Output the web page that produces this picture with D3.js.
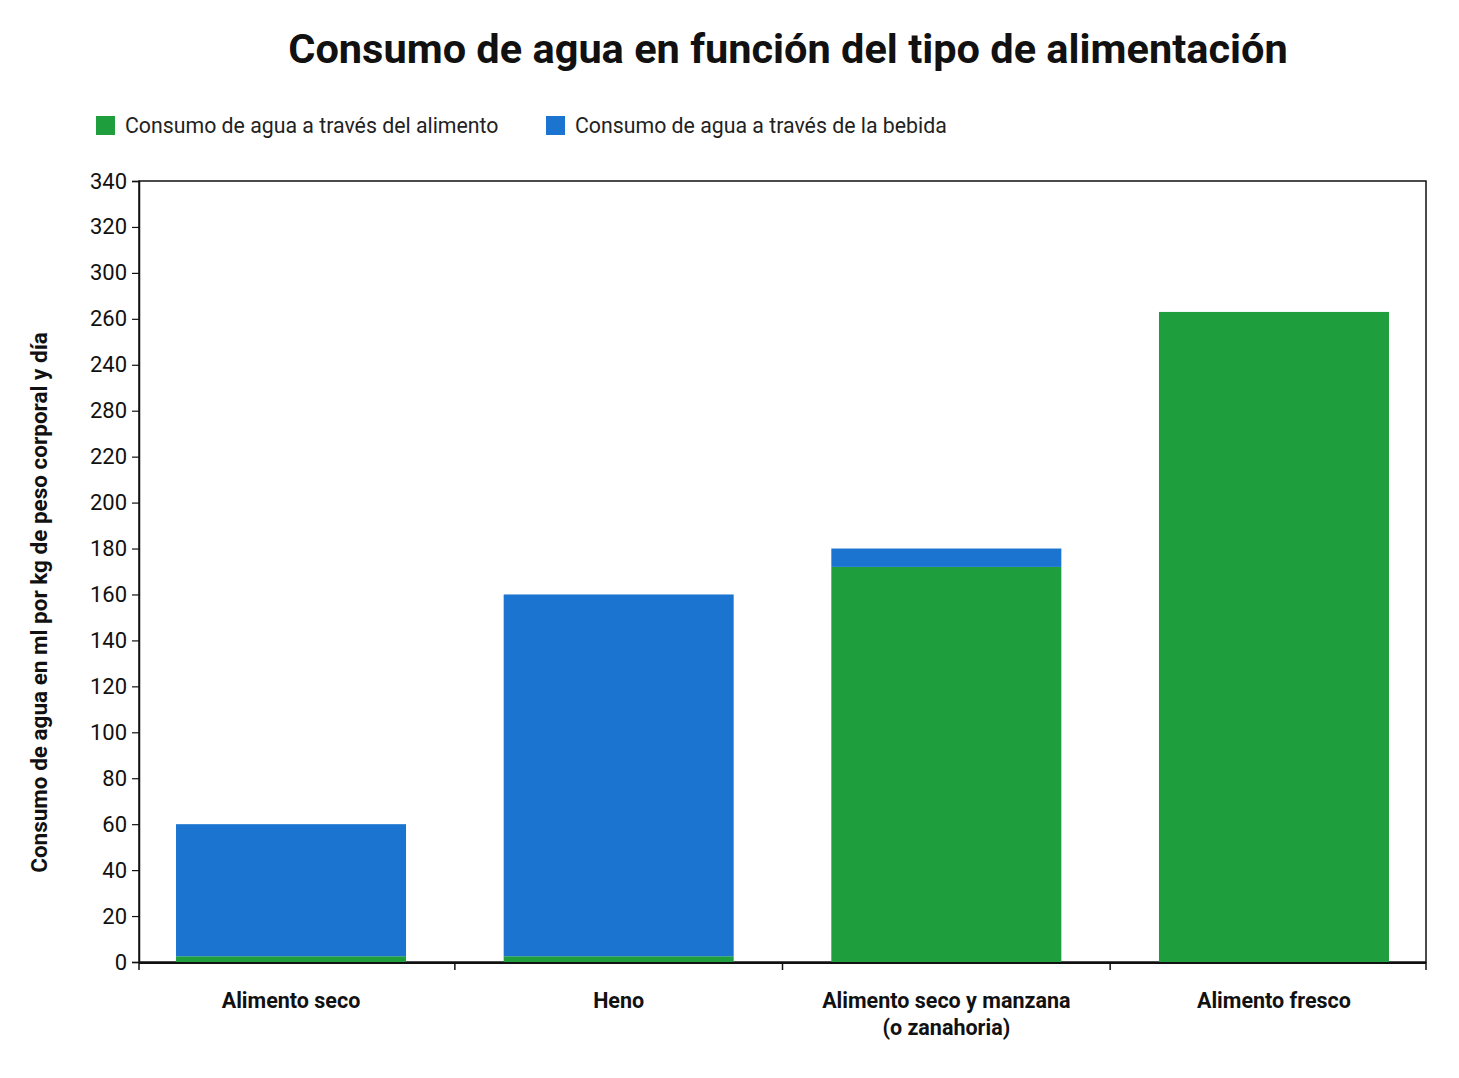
<!DOCTYPE html>
<html><head><meta charset="utf-8">
<script src="https://cdn.jsdelivr.net/npm/d3@7"></script>
<style>body{margin:0;background:#fff;font-family:Roboto,"Noto Sans",sans-serif}</style>
</head><body>
<script>
const categories = ["Alimento seco", "Heno", "Alimento seco y manzana|(o zanahoria)", "Alimento fresco"];
const foodWater = [2.5, 2.5, 172, 283];
const drinkWater = [57.5, 157.5, 8, 0];
const seriesNames = ["Consumo de agua a través del alimento", "Consumo de agua a través de la bebida"];
const seriesColors = ["#1f9e3e", "#1a74d0"];
const yTickValues = [0,20,40,60,80,100,120,140,160,180,200,220,240,260,280,300,320,340];
const yTickLabels = ["0","20","40","60","80","100","120","140","160","180","200","220","280","240","260","300","320","340"];
const titleText = "Consumo de agua en función del tipo de alimentación";
const yAxisTitle = "Consumo de agua en ml por kg de peso corporal y día";

const W = 1459, H = 1078;
const L = 139, R = 1426, T = 181, B = 962;
const svg = d3.select("body").append("svg").attr("width", W).attr("height", H);

svg.append("text").attr("x", 788).attr("y", 63).attr("text-anchor", "middle")
  .attr("font-size", 41.5).attr("font-weight", 700).attr("fill", "#111").text(titleText);

// legend
const leg = svg.append("g");
const legX = [96, 546];
seriesNames.forEach((n, i) => {
  leg.append("rect").attr("x", legX[i]).attr("y", 116).attr("width", 19).attr("height", 19).attr("fill", seriesColors[i]);
  leg.append("text").attr("x", legX[i] + 29).attr("y", 133).attr("font-size", 21.3).attr("fill", "#222").text(n);
});

const x = d3.scaleBand().domain(categories).range([L, R]).paddingInner(0.298).paddingOuter(0.113);
const y = d3.scaleLinear().domain([0, 340]).range([B, T]);

// frame
svg.append("rect").attr("x", L).attr("y", T).attr("width", R - L).attr("height", B - T)
  .attr("fill", "none").attr("stroke", "#111").attr("stroke-width", 1.5);

// bars
const stackData = categories.map((c, i) => ({cat: c, food: foodWater[i], drink: drinkWater[i]}));
const stack = d3.stack().keys(["food", "drink"])(stackData);
svg.append("g").selectAll("g").data(stack).join("g").attr("fill", (d, i) => seriesColors[i])
  .selectAll("rect").data(d => d).join("rect")
  .attr("x", d => x(d.data.cat)).attr("width", x.bandwidth())
  .attr("y", d => y(d[1])).attr("height", d => Math.max(0, y(d[0]) - y(d[1])));

// y axis
const yAxis = d3.axisLeft(y).tickValues(yTickValues).tickSize(7).tickPadding(5)
  .tickFormat((d, i) => yTickLabels[i]);
const gy = svg.append("g").attr("transform", `translate(${L},0)`).call(yAxis);
gy.select(".domain").attr("stroke", "#111").attr("stroke-width", 1.5);
gy.selectAll(".tick line").attr("stroke", "#111").attr("stroke-width", 1.2);
gy.selectAll(".tick text").attr("font-size", 22).attr("fill", "#111").attr("font-family", "Roboto");

// x axis
svg.append("line").attr("x1", L).attr("x2", R).attr("y1", B + 1).attr("y2", B + 1).attr("stroke", "#111").attr("stroke-width", 2);
const bounds = categories.map(c => x(c) - x.step() * x.paddingInner() / 2);
bounds[0] = L; bounds.push(R);
svg.append("g").selectAll("line").data(bounds).join("line")
  .attr("x1", d => d).attr("x2", d => d).attr("y1", B).attr("y2", B + 8)
  .attr("stroke", "#111").attr("stroke-width", 1.5);

const xl = svg.append("g").selectAll("text").data(categories).join("text")
  .attr("x", d => x(d) + x.bandwidth() / 2).attr("y", 1008)
  .attr("text-anchor", "middle").attr("font-size", 21.5).attr("font-weight", 700).attr("fill", "#111");
xl.each(function(d) {
  d.split("|").forEach((s, k) => d3.select(this).append("tspan")
    .attr("x", x(d) + x.bandwidth() / 2).attr("dy", k ? 27 : 0).text(s));
});

svg.append("text").attr("transform", `translate(47,${(T + B) / 2 + 31}) rotate(-90)`)
  .attr("text-anchor", "middle").attr("font-size", 22.5).attr("font-weight", 700).attr("fill", "#111")
  .text(yAxisTitle);
</script>
</body></html>
